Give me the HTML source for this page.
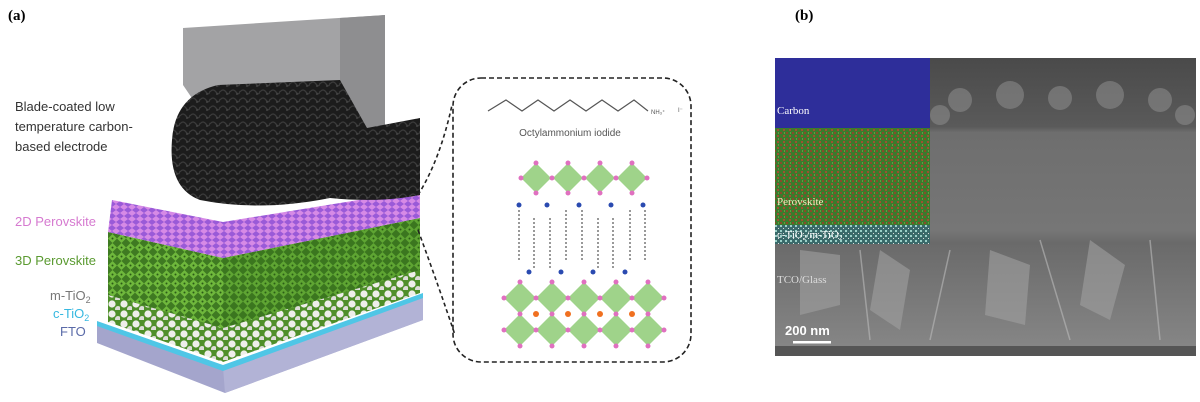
<!DOCTYPE html>
<html><head><meta charset="utf-8"><style>
html,body{margin:0;padding:0;background:#fff;width:1200px;height:402px;overflow:hidden}
svg{display:block}
</style></head><body>
<svg width="1200" height="402" viewBox="0 0 1200 402" xmlns="http://www.w3.org/2000/svg" font-family="Liberation Sans, sans-serif">
<defs>
<pattern id="green" width="9" height="9" patternUnits="userSpaceOnUse">
<rect width="9" height="9" fill="#3f7a22"/><path d="M4.5 0L9 4.5 4.5 9 0 4.5Z" fill="#6fb83c"/><circle cx="4.5" cy="4.5" r="1" fill="#2a5a16"/>
</pattern>
<pattern id="purple" width="8" height="6" patternUnits="userSpaceOnUse">
<rect width="8" height="6" fill="#9a5ad8"/><path d="M4 0L8 3 4 6 0 3Z" fill="#d68ae6"/>
</pattern>
<pattern id="white" width="12" height="10" patternUnits="userSpaceOnUse">
<rect width="12" height="10" fill="#4f8f2a"/><circle cx="4" cy="4" r="3.6" fill="#eeeeea"/><circle cx="10" cy="9" r="3" fill="#dcdcd8"/>
</pattern>
<pattern id="carbon" width="10" height="8" patternUnits="userSpaceOnUse">
<rect width="10" height="8" fill="#1c1c1c"/><path d="M0 4Q3 0 6 4T10 3" stroke="#3a3a3a" stroke-width="1.3" fill="none"/><circle cx="7" cy="6" r="1" fill="#444"/>
</pattern>
<pattern id="noise" width="6" height="6" patternUnits="userSpaceOnUse">
<rect width="6" height="6" fill="#3c7a2c"/><rect x="0" y="0" width="2" height="2" fill="#8a4a2a"/><rect x="3" y="3" width="2" height="2" fill="#a05030"/><rect x="4" y="0" width="1" height="2" fill="#5aa040"/>
</pattern>
<pattern id="teal" width="5" height="5" patternUnits="userSpaceOnUse">
<rect width="5" height="5" fill="#3a6a6a"/><rect width="2" height="2" fill="#9ad0c8"/><rect x="3" y="3" width="1" height="1" fill="#ddd"/>
</pattern>
<linearGradient id="sem" x1="0" y1="0" x2="0" y2="1">
<stop offset="0" stop-color="#4a4a4a"/><stop offset="0.23" stop-color="#5a5a5a"/><stop offset="0.25" stop-color="#6e6e6e"/><stop offset="0.58" stop-color="#767676"/><stop offset="0.62" stop-color="#6a6a6a"/><stop offset="1" stop-color="#888"/>
</linearGradient>
</defs>

<text x="8" y="20" font-family="Liberation Serif, serif" font-weight="bold" font-size="15">(a)</text>
<text x="795" y="20" font-family="Liberation Serif, serif" font-weight="bold" font-size="15">(b)</text>

<!-- slab -->
<polygon points="97,323 223,367 423,295 423,320 225,393 97,343" fill="#a4a5cc"/>
<polygon points="223,367 423,295 423,320 225,393" fill="#b2b3d6"/>
<polygon points="97,321 223,365 423,293 423,298 223,371 97,326" fill="#4fc6e6"/>
<!-- white layer -->
<polygon points="108,292 223,325 420,268 420,293 223,362 108,322" fill="url(#white)"/>
<!-- green box -->
<polygon points="108,232 223,258 420,218 420,270 223,328 108,295" fill="url(#green)"/>
<polygon points="223,258 420,218 420,270 223,328" fill="#2f6a18" opacity="0.25"/>
<!-- purple -->
<polygon points="112,200 223,222 420,190 420,218 223,258 108,232" fill="url(#purple)"/>
<!-- blade -->
<polygon points="183,28 385,15 385,130 365,130 345,85 215,90 200,110 183,85" fill="#a3a3a5"/>
<polygon points="340,18 385,15 385,130 367,130 340,80" fill="#8e8e90"/>
<!-- carbon -->
<path d="M172,140 Q175,95 218,85 L340,80 L367,128 L420,118 L420,195 Q380,203 330,198 Q260,212 200,200 Q168,188 172,140Z" fill="url(#carbon)"/>

<g font-size="13">
<text x="15" y="111" fill="#333">Blade-coated low</text>
<text x="15" y="131" fill="#333">temperature carbon-</text>
<text x="15" y="151" fill="#333">based electrode</text>
<text x="15" y="226" fill="#d67ad0">2D Perovskite</text>
<text x="15" y="265" fill="#5a9a30">3D Perovskite</text>
<text x="50" y="300" fill="#777">m-TiO<tspan font-size="9" dy="3">2</tspan></text>
<text x="53" y="318" fill="#36b8e0">c-TiO<tspan font-size="9" dy="3">2</tspan></text>
<text x="60" y="336" fill="#5a6aa8">FTO</text>
</g>

<!-- zoom lines -->
<path d="M418,195 Q440,160 452,105" stroke="#222" stroke-width="1.6" stroke-dasharray="4,3" fill="none"/>
<path d="M418,230 Q440,290 455,335" stroke="#222" stroke-width="1.6" stroke-dasharray="4,3" fill="none"/>
<rect x="453" y="78" width="238" height="284" rx="28" fill="none" stroke="#222" stroke-width="1.6" stroke-dasharray="5,3"/>

<polyline points="488,111 506,100 522,111 538,100 554,111 570,100 586,111 602,100 618,111 634,100 648,111" fill="none" stroke="#555" stroke-width="1.2"/>
<text x="651" y="114" font-size="6" fill="#555">NH₃⁺</text>
<text x="678" y="112" font-size="6" fill="#555">I⁻</text>
<text x="570" y="136" font-size="10" fill="#555" text-anchor="middle">Octylammonium iodide</text>

<g fill="#9fd38a">
<path d="M536,163l15,15-15,15-15-15Z M568,163l15,15-15,15-15-15Z M600,163l15,15-15,15-15-15Z M632,163l15,15-15,15-15-15Z"/>
<path d="M520,282l16,16-16,16-16-16Z M552,282l16,16-16,16-16-16Z M584,282l16,16-16,16-16-16Z M616,282l16,16-16,16-16-16Z M648,282l16,16-16,16-16-16Z"/>
<path d="M520,314l16,16-16,16-16-16Z M552,314l16,16-16,16-16-16Z M584,314l16,16-16,16-16-16Z M616,314l16,16-16,16-16-16Z M648,314l16,16-16,16-16-16Z"/>
</g>
<g fill="#e070c0">
<circle cx="536" cy="163" r="2.5"/><circle cx="568" cy="163" r="2.5"/><circle cx="600" cy="163" r="2.5"/><circle cx="632" cy="163" r="2.5"/>
<circle cx="521" cy="178" r="2.5"/><circle cx="552" cy="178" r="2.5"/><circle cx="584" cy="178" r="2.5"/><circle cx="616" cy="178" r="2.5"/><circle cx="647" cy="178" r="2.5"/>
<circle cx="536" cy="193" r="2.5"/><circle cx="568" cy="193" r="2.5"/><circle cx="600" cy="193" r="2.5"/><circle cx="632" cy="193" r="2.5"/>
<circle cx="520" cy="282" r="2.5"/><circle cx="552" cy="282" r="2.5"/><circle cx="584" cy="282" r="2.5"/><circle cx="616" cy="282" r="2.5"/><circle cx="648" cy="282" r="2.5"/>
<circle cx="504" cy="298" r="2.5"/><circle cx="536" cy="298" r="2.5"/><circle cx="568" cy="298" r="2.5"/><circle cx="600" cy="298" r="2.5"/><circle cx="632" cy="298" r="2.5"/><circle cx="664" cy="298" r="2.5"/>
<circle cx="520" cy="314" r="2.5"/><circle cx="552" cy="314" r="2.5"/><circle cx="584" cy="314" r="2.5"/><circle cx="616" cy="314" r="2.5"/><circle cx="648" cy="314" r="2.5"/>
<circle cx="504" cy="330" r="2.5"/><circle cx="536" cy="330" r="2.5"/><circle cx="568" cy="330" r="2.5"/><circle cx="600" cy="330" r="2.5"/><circle cx="632" cy="330" r="2.5"/><circle cx="664" cy="330" r="2.5"/>
<circle cx="520" cy="346" r="2.5"/><circle cx="552" cy="346" r="2.5"/><circle cx="584" cy="346" r="2.5"/><circle cx="616" cy="346" r="2.5"/><circle cx="648" cy="346" r="2.5"/>
</g>
<g fill="#f07020"><circle cx="536" cy="314" r="3"/><circle cx="568" cy="314" r="3"/><circle cx="600" cy="314" r="3"/><circle cx="632" cy="314" r="3"/></g>
<g stroke="#999" stroke-width="2" stroke-dasharray="2,2" fill="none">
<path d="M519,210v50 M550,218v50 M582,210v50 M613,218v50 M645,210v50 M534,218v50 M566,210v50 M598,218v50 M630,210v50"/>
</g>
<g fill="#2a4ab0"><circle cx="519" cy="205" r="2.5"/><circle cx="547" cy="205" r="2.5"/><circle cx="579" cy="205" r="2.5"/><circle cx="611" cy="205" r="2.5"/><circle cx="643" cy="205" r="2.5"/>
<circle cx="529" cy="272" r="2.5"/><circle cx="561" cy="272" r="2.5"/><circle cx="593" cy="272" r="2.5"/><circle cx="625" cy="272" r="2.5"/></g>

<!-- SEM -->
<rect x="775" y="58" width="421" height="298" fill="url(#sem)"/>
<g fill="#8a8a8a" opacity="0.6"><circle cx="960" cy="100" r="12"/><circle cx="1010" cy="95" r="14"/><circle cx="1060" cy="98" r="12"/><circle cx="1110" cy="95" r="14"/><circle cx="1160" cy="100" r="12"/><circle cx="940" cy="115" r="10"/><circle cx="1185" cy="115" r="10"/></g>
<g fill="#a0a0a0" opacity="0.6"><path d="M880,250l30,20-10,60-30-20Z M990,250l40,15-5,60-40-10Z M1090,240l35,25-15,55-30-15Z M800,250l40,5 0,50-40 10Z"/></g>
<g stroke="#bbb" stroke-width="1.5" opacity="0.6" fill="none"><path d="M950,250l-20,90 M1040,240l30,100 M860,250l10,90 M1150,240l10,100"/></g>
<rect x="775" y="346" width="421" height="10" fill="#555"/>
<rect x="775" y="58" width="155" height="70" fill="#2e2e9a"/>
<rect x="775" y="128" width="155" height="97" fill="url(#noise)"/>
<rect x="775" y="225" width="155" height="19" fill="url(#teal)"/>
<g fill="#fff" font-family="Liberation Serif, serif" font-size="11">
<text x="777" y="114">Carbon</text>
<text x="777" y="205" fill="#f0f0c0">Perovskite</text>
<text x="777" y="238">c-TiO<tspan font-size="7" dy="2">2</tspan><tspan dy="-2">/m-TiO</tspan><tspan font-size="7" dy="2">2</tspan></text>
<text x="777" y="283" fill="#ddd">TCO/Glass</text>
</g>
<text x="785" y="335" fill="#fff" font-weight="bold" font-size="13">200 nm</text>
<rect x="793" y="341" width="38" height="2.5" fill="#fff"/>
</svg>
</body></html>
